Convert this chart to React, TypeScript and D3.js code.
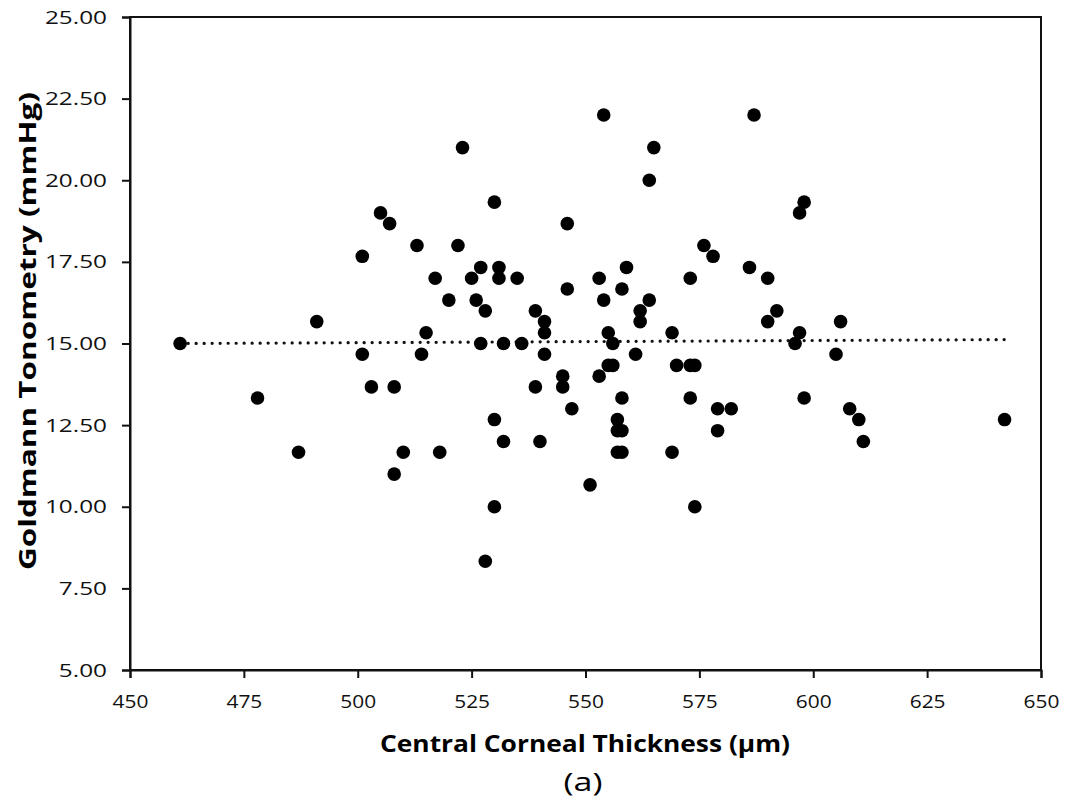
import React, { useEffect, useRef } from 'react';
import * as d3 from 'd3';

// Central corneal thickness (µm) for each eye
const cctValues: number[] = [
  461, 478, 487, 491, 501, 501, 503, 505, 507, 508,
  508, 510, 513, 514, 515, 517, 518, 520, 522, 523,
  525, 526, 527, 527, 528, 528, 530, 530, 530, 531,
  531, 532, 532, 535, 536, 539, 539, 540, 541, 541,
  541, 545, 545, 546, 546, 547, 551, 553, 553, 554,
  554, 555, 555, 556, 556, 557, 557, 557, 558, 558,
  558, 558, 559, 561, 562, 562, 564, 564, 565, 569,
  569, 570, 573, 573, 573, 574, 574, 576, 578, 579,
  579, 582, 586, 587, 590, 590, 592, 596, 597, 597,
  598, 598, 605, 606, 608, 610, 611, 642,
];

// Goldmann tonometry (mmHg), same order as cctValues
const gatValues: number[] = [
  15, 13.33, 11.67, 15.67, 17.67, 14.67, 13.67, 19, 18.67, 13.67,
  11, 11.67, 18, 14.67, 15.33, 17, 11.67, 16.33, 18, 21,
  17, 16.33, 17.33, 15, 16, 8.33, 19.33, 12.67, 10, 17.33,
  17, 15, 12, 17, 15, 16, 13.67, 12, 15.67, 15.33,
  14.67, 14, 13.67, 18.67, 16.67, 13, 10.67, 17, 14, 22,
  16.33, 15.33, 14.33, 15, 14.33, 12.67, 12.33, 11.67, 16.67, 13.33,
  12.33, 11.67, 17.33, 14.67, 16, 15.67, 20, 16.33, 21, 15.33,
  11.67, 14.33, 17, 14.33, 13.33, 14.33, 10, 18, 17.67, 13,
  12.33, 13, 17.33, 22, 17, 15.67, 16, 15, 19, 15.33,
  19.33, 13.33, 14.67, 15.67, 13, 12.67, 12, 12.67,
];

// Linear trend line (CCT, mmHg at each end)
const trendCct: number[] = [461, 642];
const trendGat: number[] = [15.0, 15.12];

const xTicks: number[] = [450, 475, 500, 525, 550, 575, 600, 625, 650];
const yTicks: number[] = [5, 7.5, 10, 12.5, 15, 17.5, 20, 22.5, 25];

const xTitle = 'Central Corneal Thickness (µm)';
const yTitle = 'Goldmann Tonometry (mmHg)';
const caption = '(a)';

const App: React.FC = () => {
  const svgRef = useRef<SVGSVGElement>(null);

  useEffect(() => {
    if (!svgRef.current) return;
    const svg = d3.select(svgRef.current);
    svg.selectAll('*').remove();

    const width = 1080;
    const height = 803;
    const margin = { top: 17, right: 39, bottom: 133, left: 130 };
    const innerW = width - margin.left - margin.right;
    const innerH = height - margin.top - margin.bottom;
    const font = 'Open Sans, Lato, sans-serif';

    const x = d3.scaleLinear().domain([450, 650]).range([0, innerW]);
    const y = d3.scaleLinear().domain([5, 25]).range([innerH, 0]);

    const g = svg.append('g')
      .attr('transform', `translate(${margin.left}, ${margin.top})`);

    // Plot frame
    g.append('rect')
      .attr('width', innerW)
      .attr('height', innerH)
      .attr('fill', 'none')
      .attr('stroke', '#111')
      .attr('stroke-width', 2);

    // Axes
    const xAxis = g.append('g')
      .attr('transform', `translate(0, ${innerH})`)
      .call(d3.axisBottom(x).tickValues(xTicks).tickSize(8).tickPadding(16.5).tickFormat(d3.format('d')));
    const yAxis = g.append('g')
      .call(d3.axisLeft(y).tickValues(yTicks).tickSize(8).tickPadding(10).tickFormat(d3.format('.2f')));

    [xAxis, yAxis].forEach(ax => {
      ax.select('.domain').attr('stroke', '#111').attr('stroke-width', 2);
      ax.selectAll('.tick line').attr('stroke', '#111').attr('stroke-width', 2);
      ax.selectAll('.tick text')
        .style('font-family', font)
        .style('font-size', '19px')
        .attr('fill', '#111');
    });
    // the picture's lettering is a little wider than the font
    xAxis.selectAll('.tick text').attr('transform', 'scale(1.1,1)');
    yAxis.selectAll('.tick text').attr('transform', 'scale(1.28,1)');

    // Dotted trend line
    const trend = trendCct.map((v, i) => [x(v), y(trendGat[i])] as [number, number]);
    g.append('path')
      .attr('d', d3.line()(trend))
      .attr('fill', 'none')
      .attr('stroke', '#111')
      .attr('stroke-width', 3.2)
      .attr('stroke-linecap', 'round')
      .attr('stroke-dasharray', '0.1,7.9');

    // Points
    const pts = cctValues.map((v, i) => ({ cct: v, gat: gatValues[i] }));
    g.append('g')
      .selectAll('circle')
      .data(pts)
      .enter()
      .append('circle')
      .attr('cx', d => x(d.cct))
      .attr('cy', d => y(d.gat))
      .attr('r', 6.8)
      .attr('fill', '#000');

    // Axis titles
    svg.append('text')
      .attr('x', 585)
      .attr('y', 752)
      .attr('text-anchor', 'middle')
      .attr('textLength', 410)
      .attr('lengthAdjust', 'spacingAndGlyphs')
      .style('font-family', font)
      .style('font-size', '24px')
      .style('font-weight', '700')
      .attr('fill', '#000')
      .text(xTitle);

    svg.append('text')
      .attr('transform', `translate(36, 331) rotate(-90)`)
      .attr('text-anchor', 'middle')
      .attr('textLength', 478)
      .attr('lengthAdjust', 'spacingAndGlyphs')
      .style('font-family', font)
      .style('font-size', '24px')
      .style('font-weight', '700')
      .attr('fill', '#000')
      .text(yTitle);

    svg.append('text')
      .attr('x', 583)
      .attr('y', 791)
      .attr('text-anchor', 'middle')
      .attr('textLength', 39)
      .attr('lengthAdjust', 'spacingAndGlyphs')
      .style('font-family', font)
      .style('font-size', '26px')
      .attr('fill', '#000')
      .text(caption);
  }, []);

  return (
    <svg
      ref={svgRef}
      width={1080}
      height={803}
      style={{ position: 'absolute', left: 0, top: 0, background: '#fff' }}
    />
  );
};

export default App;
